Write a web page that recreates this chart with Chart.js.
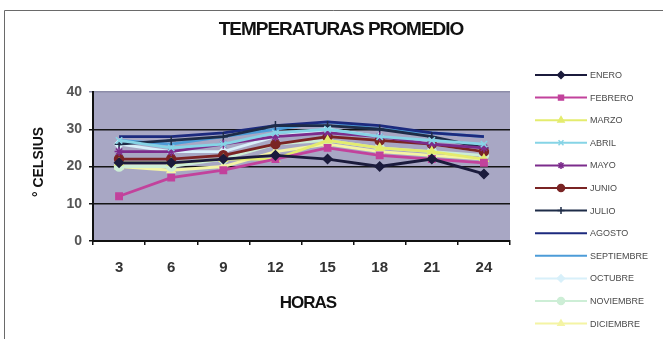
<!DOCTYPE html>
<html>
<head>
<meta charset="utf-8">
<script src="https://cdn.jsdelivr.net/npm/chart.js@4.4.1/dist/chart.umd.min.js"></script>
<style>
  html, body { margin: 0; padding: 0; background: #ffffff; }
  #wrap { width: 663px; height: 339px; position: relative; }
</style>
</head>
<body>
<div id="wrap"><canvas id="c" width="663" height="339"></canvas></div>
<script>
// Hours of the day (x categories)
const horas = ['3', '6', '9', '12', '15', '18', '21', '24'];
const meses = ['ENERO', 'FEBRERO', 'MARZO', 'ABRIL', 'MAYO', 'JUNIO', 'JULIO',
               'AGOSTO', 'SEPTIEMBRE', 'OCTUBRE', 'NOVIEMBRE', 'DICIEMBRE'];
const yTicks = [0, 10, 20, 30, 40];

// Average temperature (°C) per month at each hour
const enero      = [21, 21, 22, 23, 22, 20, 22, 18];
const febrero    = [12, 17, 19, 22, 25, 23, 22, 21];
const marzo      = [21, 21, 22, 22, 27, 25, 24, 22];
const abril      = [27, 25, 26, 29, 30, 28, 27, 26];
const mayo       = [24, 24, 26, 28, 29, 28, 26, 25];
const junio      = [22, 22, 23, 26, 28, 27, 26, 24];
const julio      = [26, 27, 28, 31, 31, 30, 28, 25];
const agosto     = [28, 28, 29, 31, 32, 31, 29, 28];
const septiembre = [27, 26, 28, 30, 32, 30, 29, 28];
const octubre    = [26, 24, 24, 28, 30, 28, 26, 24];
const noviembre  = [20, 20, 22, 26, 27, 25, 24, 23];
const diciembre  = [20, 19, 20, 24, 26, 24, 23, 22];

const series = [enero, febrero, marzo, abril, mayo, junio, julio,
                agosto, septiembre, octubre, noviembre, diciembre];
const colores = ['#1b1b3c', '#c2429c', '#e4ec6e', '#86d4e6', '#7c2c8c', '#7a2424',
                 '#1e2c48', '#1c2a7e', '#4c9cd8', '#d8f0fa', '#cdeed6', '#f4f4a4'];
const marcadores = ['rectRot', 'rect', 'triangle', 'crossRot', 'star', 'circle',
                    'cross', false, false, 'rectRot', 'circle', 'triangle'];

const FONT = "'Liberation Sans', Arial, sans-serif";

const datasets = series.map((d, i) => ({
  label: meses[i],
  data: d,
  borderColor: colores[i],
  backgroundColor: colores[i],
  borderWidth: 2.8,
  pointStyle: marcadores[i] || 'circle',
  pointRadius: marcadores[i] ? 4.5 : 0,
  pointBorderWidth: 1.5,
  tension: 0
}));

// Grey plot area behind the lines
const plotBg = {
  id: 'plotBg',
  beforeDraw(chart) {
    const { ctx, chartArea: a } = chart;
    ctx.save();
    ctx.fillStyle = '#a8a7c4';
    ctx.fillRect(a.left, a.top, a.right - a.left, a.bottom - a.top);
    ctx.restore();
  }
};

// Frame, titles and the line-sample legend
const decor = {
  id: 'decor',
  afterDraw(chart) {
    const { ctx } = chart;
    ctx.save();
    // chart frame
    ctx.strokeStyle = '#6a6a6a';
    ctx.lineWidth = 1;
    ctx.beginPath();
    ctx.moveTo(4.5, 339);
    ctx.lineTo(4.5, 10.5);
    ctx.lineTo(663, 10.5);
    ctx.stroke();

    ctx.fillStyle = '#111';
    ctx.textAlign = 'center';
    ctx.textBaseline = 'middle';
    ctx.letterSpacing = '-1px';
    ctx.font = 'bold 19px ' + FONT;
    ctx.fillText('TEMPERATURAS PROMEDIO', 341, 30);
    ctx.font = 'bold 17px ' + FONT;
    ctx.fillText('HORAS', 308, 303);
    ctx.letterSpacing = '0px';

    ctx.save();
    ctx.translate(39, 162);
    ctx.rotate(-Math.PI / 2);
    ctx.font = 'bold 14px ' + FONT;
    ctx.fillText('° CELSIUS', 0, 0);
    ctx.restore();

    // legend
    chart.data.datasets.forEach((ds, i) => {
      const y = 75 + i * 22.6;
      ctx.strokeStyle = ds.borderColor;
      ctx.lineWidth = 2;
      ctx.beginPath();
      ctx.moveTo(535, y);
      ctx.lineTo(587, y);
      ctx.stroke();
      if (marcadores[i]) {
        ctx.fillStyle = ds.borderColor;
        ctx.lineWidth = 1.5;
        Chart.helpers.drawPoint(ctx, { pointStyle: marcadores[i], radius: 3.5, rotation: 0, borderWidth: 1.5 }, 561, y);
      }
      ctx.fillStyle = '#4a4a4a';
      ctx.textAlign = 'left';
      ctx.textBaseline = 'middle';
      ctx.font = '9px ' + FONT;
      ctx.fillText(ds.label, 590, y + 0.5);
    });
    ctx.restore();
  }
};

new Chart(document.getElementById('c'), {
  type: 'line',
  data: { labels: horas, datasets },
  plugins: [plotBg, decor],
  options: {
    responsive: false,
    animation: false,
    devicePixelRatio: 1,
    layout: { padding: { left: 0, top: 92, right: 153, bottom: 0 } },
    plugins: { legend: { display: false }, title: { display: false }, tooltip: { enabled: false } },
    scales: {
      x: {
        type: 'category',
        offset: true,
        afterFit(s) { s.height = 98; },
        grid: { offset: true, drawOnChartArea: false, drawTicks: true, tickLength: 4, color: '#111', lineWidth: 1.5 },
        border: { display: true, color: '#111', width: 2 },
        ticks: { color: '#333', padding: 14, font: { family: FONT, size: 15, weight: 'bold' } }
      },
      y: {
        min: 0, max: 40,
        afterFit(s) { s.width = 93; },
        afterBuildTicks(s) { s.ticks = yTicks.map(v => ({ value: v })); },
        grid: {
          color: c => (c.tick && c.tick.value === 40) ? '#8c8ca8' : '#151515',
          lineWidth: 1.5,
          tickLength: 4
        },
        border: { display: true, color: '#111', width: 2 },
        ticks: { color: '#555', padding: 7, font: { family: FONT, size: 14, weight: 'bold' } }
      }
    }
  }
});
</script>
</body>
</html>
